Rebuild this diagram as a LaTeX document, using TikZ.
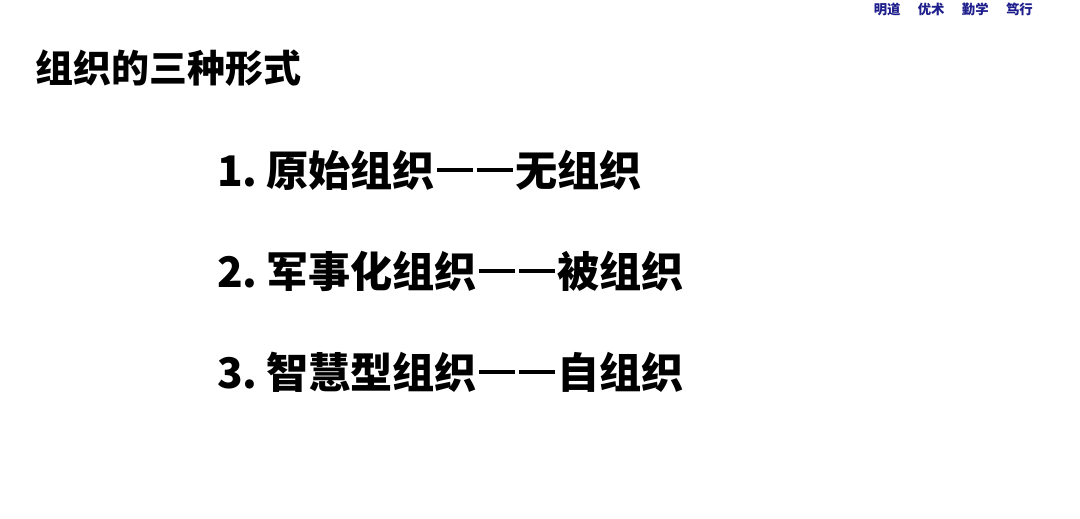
\documentclass[tikz,border=0pt]{standalone}
\usepackage{fontspec}
\setmainfont{Carlito}
\newfontfamily\cjk{Noto Sans CJK SC}
\usetikzlibrary{positioning, calc}
\definecolor{mottoblue}{RGB}{30,30,140}
\newcommand{\dashpair}{\hspace{0.05em}\rule[0.33em]{0.85em}{0.095em}\hspace{0.1em}\rule[0.33em]{0.85em}{0.095em}\hspace{0.05em}}

\begin{document}
\begin{tikzpicture}[x=0.025cm, y=-0.025cm,
    heading/.style={anchor=west, inner sep=0pt, font=\cjk\bfseries\fontsize{27}{30}\selectfont},
    item/.style={anchor=west, inner sep=0pt, font=\cjk\bfseries\fontsize{30}{34}\selectfont},
    motto/.style={anchor=east, inner sep=0pt, text=mottoblue, font=\cjk\bfseries\fontsize{9.5}{11}\selectfont}]
				\useasboundingbox[fill=white] (0, 0) rectangle (1080, 519);
				
				\coordinate (T) at (35, 68);
				\coordinate (M) at (1033, 9);
				\coordinate (P) at (217, 170);
				
				\node[heading] (title) at (T) {组织的三种形式};
				\node[motto] (motto) at (M) {明道\hspace{1.3em}优术\hspace{1.3em}勤学\hspace{1.3em}笃行};
				
				\node[item] (item1) at (P) {1.\hspace{0.2em}原始组织\dashpair 无组织};
				\node[item] (item2) at ($(P)+(0, 101)$) {2.\hspace{0.2em}军事化组织\dashpair 被组织};
				\node[item] (item3) at ($(P)+(0, 202)$) {3.\hspace{0.2em}智慧型组织\dashpair 自组织};
\end{tikzpicture}
\end{document}
